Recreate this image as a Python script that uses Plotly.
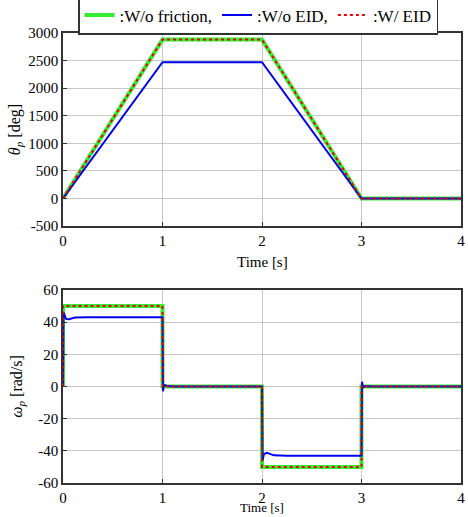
import plotly.graph_objects as go

# ---- data ----
t_ref = [0, 1, 2, 3, 4]
theta_nofric = [0, 2880, 2880, 0, 0]
theta_eid = [0, 2880, 2880, 0, 0]
t_theta_blue = [0, 1, 2, 3, 4]
theta_noeid = [0, 2470, 2470, 0, 0]

t_omega = [0, 0.0001, 1, 1.0001, 2, 2.0001, 3, 3.0001, 4]
omega_nofric = [0, 50, 50, 0, 0, -50, -50, 0, 0]
omega_eid = [0, 50, 50, 0, 0, -50, -50, 0, 0]

t_omega_blue = [0, 0.005, 0.03, 0.06, 0.12, 0.25, 1.0, 1.005, 1.015, 1.04, 1.1,
                2.0, 2.005, 2.02, 2.05, 2.12, 2.25, 3.0, 3.005, 3.015, 3.04, 3.1, 4.0]
omega_noeid = [0, 46, 42, 41.8, 42.8, 43, 43, -3, 1, 0.5, 0,
               0, -46, -42, -41.3, -42.8, -43, -43, 3, -0.5, 0.3, 0, 0]

x_ticks = [0, 1, 2, 3, 4]
theta_ticks = [-500, 0, 500, 1000, 1500, 2000, 2500, 3000]
theta_labels = ["-500", "0", "500", "1000", "1500", "2000", "2500", "3000"]
omega_ticks = [-60, -40, -20, 0, 20, 40, 60]
omega_labels = ["-60", "-40", "-20", "0", "20", "40", "60"]

GREEN = "#33ee33"
BLUE = "#0000ee"
RED = "#ee0000"
FONT = "Times New Roman, Liberation Serif, DejaVu Serif, serif"

fig = go.Figure()

# top plot
fig.add_trace(go.Scatter(x=t_ref, y=theta_nofric, mode="lines", name=":W/o friction,",
                         line=dict(color=GREEN, width=4), xaxis="x", yaxis="y"))
fig.add_trace(go.Scatter(x=t_theta_blue, y=theta_noeid, mode="lines", name=":W/o EID,",
                         line=dict(color=BLUE, width=2), xaxis="x", yaxis="y"))
fig.add_trace(go.Scatter(x=t_ref, y=theta_eid, mode="lines", name=":W/ EID",
                         line=dict(color=RED, width=2, dash="dot"), xaxis="x", yaxis="y"))

# bottom plot
fig.add_trace(go.Scatter(x=t_omega, y=omega_nofric, mode="lines", showlegend=False,
                         line=dict(color=GREEN, width=4), xaxis="x2", yaxis="y2"))
fig.add_trace(go.Scatter(x=t_omega_blue, y=omega_noeid, mode="lines", showlegend=False,
                         line=dict(color=BLUE, width=2), xaxis="x2", yaxis="y2"))
fig.add_trace(go.Scatter(x=t_omega, y=omega_eid, mode="lines", showlegend=False,
                         line=dict(color=RED, width=2, dash="dot"), xaxis="x2", yaxis="y2"))

axis_common = dict(showline=True, linecolor="#333", linewidth=1.5, mirror=True,
                   ticks="inside", ticklen=4, tickcolor="#333",
                   showgrid=True, gridcolor="#c8c8c8", gridwidth=1,
                   zeroline=False, tickfont=dict(family=FONT, size=15, color="black"))

fig.update_layout(
    width=468, height=517,
    margin=dict(l=63, r=7, t=33, b=34, autoexpand=False),
    paper_bgcolor="white", plot_bgcolor="white",
    font=dict(family=FONT, size=15, color="black"),
    showlegend=True,
    legend=dict(orientation="h", x=0.49, xanchor="center", y=0.9956, yanchor="bottom",
                bordercolor="#333", borderwidth=1.5, bgcolor="white",
                font=dict(family=FONT, size=17, color="black"),
                tracegroupgap=0),
    xaxis=dict(domain=[0, 1], anchor="y", range=[0, 4], tickvals=x_ticks, **axis_common),
    yaxis=dict(domain=[0.571, 1.0], anchor="x", range=[-500, 3000], tickvals=theta_ticks,
               ticktext=theta_labels,
               title=dict(text="<i>θ<sub>p</sub></i> [deg]", font=dict(family=FONT, size=16), standoff=4),
               **axis_common),
    xaxis2=dict(domain=[0, 1], anchor="y2", range=[0, 4], tickvals=x_ticks, **axis_common),
    yaxis2=dict(domain=[0, 0.429], anchor="x2", range=[-60, 60], tickvals=omega_ticks,
                ticktext=omega_labels,
                title=dict(text="<i>ω<sub>p</sub></i> [rad/s]", font=dict(family=FONT, size=16), standoff=12),
                **axis_common),
    annotations=[
        dict(text="Time [s]", xref="paper", yref="paper", x=0.5, y=0.571, yshift=-36,
             xanchor="center", yanchor="middle", showarrow=False,
             font=dict(family=FONT, size=15, color="black")),
        dict(text="Time [s]", xref="paper", yref="paper", x=0.5, y=0.0, yshift=-34,
             xanchor="center", yanchor="bottom", showarrow=False,
             font=dict(family=FONT, size=13, color="black")),
    ],
)

fig.write_html("out.html")
